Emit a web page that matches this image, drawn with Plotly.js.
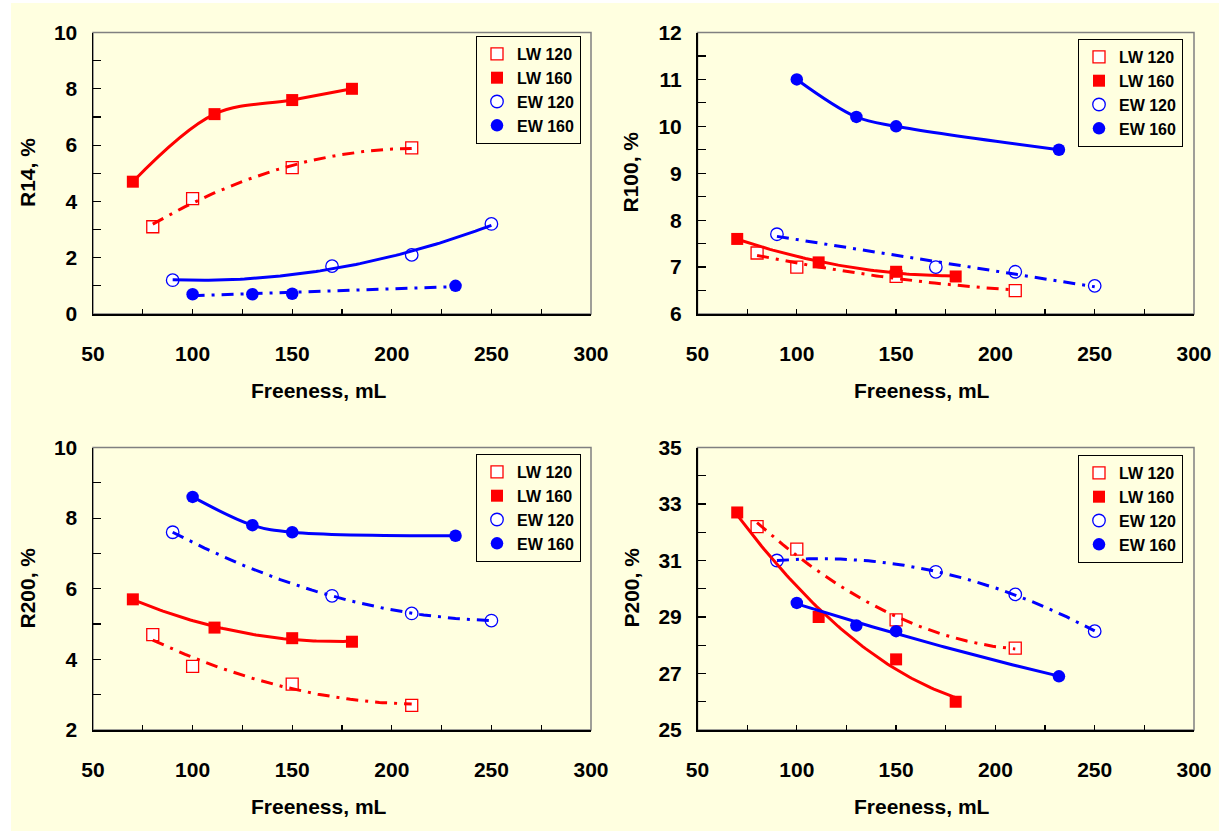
<!DOCTYPE html>
<html>
<head>
<meta charset="utf-8">
<script src="https://cdn.plot.ly/plotly-3.0.1.min.js"></script>
<style>
  html, body { margin: 0; padding: 0; background: #ffffff; width: 1221px; height: 831px; overflow: hidden; }
  #chart { position: absolute; left: 11px; top: 3px; width: 1208px; height: 828px; }
</style>
</head>
<body>
<div id="chart"></div>
<script>
// ---------------- DATA ----------------
const seriesNames = ["LW 120", "LW 160", "EW 120", "EW 160"];

// Panel 1: R14, %
const r14_LW120_x = [80, 100, 150, 210];
const r14_LW120_y = [3.1, 4.1, 5.2, 5.9];
const r14_LW160_x = [70, 111, 150, 180];
const r14_LW160_y = [4.7, 7.1, 7.6, 8.0];
const r14_EW120_x = [90, 170, 210, 250];
const r14_EW120_y = [1.2, 1.7, 2.1, 3.2];
const r14_EW160_x = [100, 130, 150, 232];
const r14_EW160_y = [0.7, 0.7, 0.72, 1.0];

// Panel 2: R100, %
const r100_LW120_x = [80, 100, 150, 210];
const r100_LW120_y = [7.3, 7.0, 6.8, 6.5];
const r100_LW160_x = [70, 111, 150, 180];
const r100_LW160_y = [7.6, 7.1, 6.9, 6.8];
const r100_EW120_x = [90, 170, 210, 250];
const r100_EW120_y = [7.7, 7.0, 6.9, 6.6];
const r100_EW160_x = [100, 130, 150, 232];
const r100_EW160_y = [11.0, 10.2, 10.0, 9.5];

// Panel 3: R200, %
const r200_LW120_x = [80, 100, 150, 210];
const r200_LW120_y = [4.7, 3.8, 3.3, 2.7];
const r200_LW160_x = [70, 111, 150, 180];
const r200_LW160_y = [5.7, 4.9, 4.6, 4.5];
const r200_EW120_x = [90, 170, 210, 250];
const r200_EW120_y = [7.6, 5.8, 5.3, 5.1];
const r200_EW160_x = [100, 130, 150, 232];
const r200_EW160_y = [8.6, 7.8, 7.6, 7.5];

// Panel 4: P200, %
const p200_LW120_x = [80, 100, 150, 210];
const p200_LW120_y = [32.2, 31.4, 28.9, 27.9];
const p200_LW160_x = [70, 111, 150, 180];
const p200_LW160_y = [32.7, 29.0, 27.5, 26.0];
const p200_EW120_x = [90, 170, 210, 250];
const p200_EW120_y = [31.0, 30.6, 29.8, 28.5];
const p200_EW160_x = [100, 130, 150, 232];
const p200_EW160_y = [29.5, 28.7, 28.5, 26.9];

// Curve type per panel/series (LW120, LW160, EW120, EW160):
// a number = least-squares polynomial trendline of that order, "spline" = smoothed line through points
const curveType = [
  [2, "spline", 2, 1],
  [2, 2, 1, "spline"],
  [2, 2, 2, "spline"],
  [2, 2, 2, 2]
];

const yTitles = ["R14, %", "R100, %", "R200, %", "P200, %"];
const xTitle = "Freeness, mL";
const xRange = [50, 300];
const yRanges = [[0, 10], [6, 12], [2, 10], [25, 35]];
const yDtick = [2, 1, 2, 2];
const yMinor = [1, 0.5, 1, 1];

// ---------------- HELPERS ----------------
function polyfit(xs, ys, order) {
  const n = order + 1;
  const A = [], b = [];
  for (let i = 0; i < n; i++) { A.push(new Array(n).fill(0)); b.push(0); }
  for (let k = 0; k < xs.length; k++) {
    for (let i = 0; i < n; i++) {
      for (let j = 0; j < n; j++) A[i][j] += Math.pow(xs[k], i + j);
      b[i] += ys[k] * Math.pow(xs[k], i);
    }
  }
  for (let i = 0; i < n; i++) {
    let p = i;
    for (let r = i + 1; r < n; r++) if (Math.abs(A[r][i]) > Math.abs(A[p][i])) p = r;
    [A[i], A[p]] = [A[p], A[i]]; [b[i], b[p]] = [b[p], b[i]];
    for (let r = i + 1; r < n; r++) {
      const f = A[r][i] / A[i][i];
      for (let c = i; c < n; c++) A[r][c] -= f * A[i][c];
      b[r] -= f * b[i];
    }
  }
  const coef = new Array(n).fill(0);
  for (let i = n - 1; i >= 0; i--) {
    let s = b[i];
    for (let c = i + 1; c < n; c++) s -= A[i][c] * coef[c];
    coef[i] = s / A[i][i];
  }
  return coef;
}
function trend(xs, ys, order) {
  const c = polyfit(xs, ys, order);
  const x0 = Math.min(...xs), x1 = Math.max(...xs);
  const tx = [], ty = [];
  const steps = 80;
  for (let i = 0; i <= steps; i++) {
    const x = x0 + (x1 - x0) * i / steps;
    let y = 0;
    for (let k = 0; k < c.length; k++) y += c[k] * Math.pow(x, k);
    tx.push(x); ty.push(y);
  }
  return { x: tx, y: ty };
}

// ---------------- STYLE ----------------
const RED = "#FF0000", BLUE = "#0000FF";
const BG = "#FFFFE0";
const FONT = "Liberation Sans, Arial, sans-serif";
const DASHDOT = "12px,7px,3px,7px";
const markerStyles = [
  { symbol: "square", size: 12, color: "#FFFFFF", line: { color: RED, width: 1.3 } },
  { symbol: "square", size: 12, color: RED, line: { color: RED, width: 0 } },
  { symbol: "circle", size: 12.5, color: "#FFFFFF", line: { color: BLUE, width: 1.3 } },
  { symbol: "circle", size: 12.5, color: BLUE, line: { color: BLUE, width: 0 } }
];
const lineDash = [
  ["dd", "solid", "solid", "dd"],
  ["dd", "solid", "dd", "solid"],
  ["dd", "solid", "dd", "solid"],
  ["dd", "solid", "dd", "solid"]
];

const panels = [
  [[r14_LW120_x, r14_LW120_y], [r14_LW160_x, r14_LW160_y], [r14_EW120_x, r14_EW120_y], [r14_EW160_x, r14_EW160_y]],
  [[r100_LW120_x, r100_LW120_y], [r100_LW160_x, r100_LW160_y], [r100_EW120_x, r100_EW120_y], [r100_EW160_x, r100_EW160_y]],
  [[r200_LW120_x, r200_LW120_y], [r200_LW160_x, r200_LW160_y], [r200_EW120_x, r200_EW120_y], [r200_EW160_x, r200_EW160_y]],
  [[p200_LW120_x, p200_LW120_y], [p200_LW160_x, p200_LW160_y], [p200_EW120_x, p200_EW120_y], [p200_EW160_x, p200_EW160_y]]
];

const W = 1208, H = 828;
const xDomains = [[82 / W, 580 / W], [686.5 / W, 1183 / W], [82 / W, 580 / W], [686.5 / W, 1183 / W]];
const yDomains = [[1 - 311 / H, 1 - 29.5 / H], [1 - 311 / H, 1 - 29.5 / H], [1 - 727 / H, 1 - 444.5 / H], [1 - 727 / H, 1 - 444.5 / H]];
const legendPos = [
  { x: 570 / W, y: 1 - 33 / H },
  { x: 1172 / W, y: 1 - 36 / H },
  { x: 570 / W, y: 1 - 451 / H },
  { x: 1172 / W, y: 1 - 452 / H }
];
const xTitlePos = [
  { x: 308 / W, y: 1 - 387 / H },
  { x: 911 / W, y: 1 - 387 / H },
  { x: 308 / W, y: 1 - 803 / H },
  { x: 911 / W, y: 1 - 803 / H }
];
const yTitlePos = [
  { x: 16 / W, y: 1 - 170 / H },
  { x: 619 / W, y: 1 - 169.5 / H },
  { x: 15.5 / W, y: 1 - 585 / H },
  { x: 619.5 / W, y: 1 - 585 / H }
];

const traces = [];
const layout = {
  width: W, height: H,
  margin: { l: 0, r: 0, t: 0, b: 0 },
  paper_bgcolor: BG,
  plot_bgcolor: BG,
  font: { family: FONT, color: "#000000" },
  showlegend: true,
  shapes: [],
  annotations: []
};

panels.forEach((series, p) => {
  const xa = p === 0 ? "x" : "x" + (p + 1);
  const ya = p === 0 ? "y" : "y" + (p + 1);
  const legName = p === 0 ? "legend" : "legend" + (p + 1);
  series.forEach((s, i) => {
    traces.push({
      type: "scatter", mode: "markers",
      x: s[0], y: s[1], name: seriesNames[i],
      xaxis: xa, yaxis: ya, legend: legName,
      marker: markerStyles[i],
      cliponaxis: false,
      hoverinfo: "x+y"
    });
  });
  series.forEach((s, i) => {
    const ct = curveType[p][i];
    const col = i < 2 ? RED : BLUE;
    const line = { color: col, width: 3, dash: lineDash[p][i] === "dd" ? DASHDOT : "solid" };
    if (ct === "spline") {
      line.shape = "spline";
      line.smoothing = 1;
      traces.push({
        type: "scatter", mode: "lines", x: s[0], y: s[1],
        name: seriesNames[i] + " line", xaxis: xa, yaxis: ya, showlegend: false,
        line: line, hoverinfo: "skip"
      });
    } else {
      const t = trend(s[0], s[1], ct);
      traces.push({
        type: "scatter", mode: "lines", x: t.x, y: t.y,
        name: seriesNames[i] + " trend", xaxis: xa, yaxis: ya, showlegend: false,
        line: line, hoverinfo: "skip"
      });
    }
  });

  const xKey = p === 0 ? "xaxis" : "xaxis" + (p + 1);
  const yKey = p === 0 ? "yaxis" : "yaxis" + (p + 1);
  layout[xKey] = {
    domain: xDomains[p], anchor: ya, range: xRange, fixedrange: true,
    showgrid: false, zeroline: false,
    showline: true, linecolor: "#000000", linewidth: 1.5,
    ticks: "inside", ticklen: 5, tickwidth: 1.2, tickcolor: "#000000",
    tick0: 50, dtick: 50,
    minor: { dtick: 25, tick0: 50, ticks: "inside", ticklen: 5, tickwidth: 1.2, tickcolor: "#000000", showgrid: false },
    tickfont: { family: FONT, size: 21, weight: "bold", color: "#000000" },
    ticklabelstandoff: 20
  };
  layout[yKey] = {
    domain: yDomains[p], anchor: xa, range: yRanges[p], fixedrange: true,
    showgrid: false, zeroline: false,
    showline: true, linecolor: "#000000", linewidth: 1.5,
    ticks: "inside", ticklen: 8, tickwidth: 1.2, tickcolor: "#000000",
    tick0: yRanges[p][0], dtick: yDtick[p],
    minor: { dtick: yMinor[p], tick0: yRanges[p][0], ticks: "inside", ticklen: 8, tickwidth: 1.2, tickcolor: "#000000", showgrid: false },
    tickfont: { family: FONT, size: 21, weight: "bold", color: "#000000" },
    ticklabelstandoff: 10
  };
  layout[legName] = {
    x: legendPos[p].x, y: legendPos[p].y, xanchor: "right", yanchor: "top",
    xref: "paper", yref: "paper",
    bgcolor: BG, bordercolor: "#000000", borderwidth: 1,
    font: { family: FONT, size: 16, weight: "bold", color: "#000000" },
    itemwidth: 30, tracegroupgap: 0
  };
  layout.shapes.push({
    type: "rect", xref: xa + " domain", yref: ya + " domain",
    x0: 0, x1: 1, y0: 0, y1: 1,
    line: { color: "#808080", width: 1.5 }, fillcolor: "rgba(0,0,0,0)", layer: "below"
  });
  layout.annotations.push({
    text: xTitle, xref: "paper", yref: "paper",
    x: xTitlePos[p].x, y: xTitlePos[p].y, xanchor: "center", yanchor: "middle",
    showarrow: false, font: { family: FONT, size: 21, weight: "bold", color: "#000000" }
  });
  layout.annotations.push({
    text: yTitles[p], xref: "paper", yref: "paper", textangle: -90,
    x: yTitlePos[p].x, y: yTitlePos[p].y, xanchor: "center", yanchor: "middle",
    showarrow: false, font: { family: FONT, size: 21, weight: "bold", color: "#000000" }
  });
});

Plotly.newPlot("chart", traces, layout, { staticPlot: true, displayModeBar: false });
</script>
</body>
</html>
